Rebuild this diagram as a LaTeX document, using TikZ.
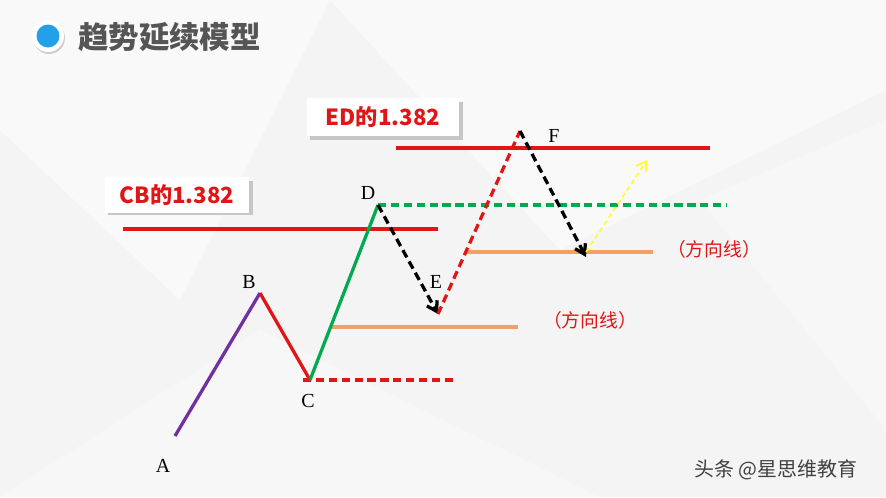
\documentclass[tikz,border=0pt]{standalone}
\usepackage{fontspec}
\setmainfont{Liberation Serif}
\newfontfamily\cjk{Noto Sans CJK SC}
\usetikzlibrary{arrows.meta}
\definecolor{wpurple}{RGB}{112,48,160}
\definecolor{wred}{RGB}{224,22,22}
\definecolor{wgreen}{RGB}{0,170,80}
\definecolor{worange}{RGB}{244,160,100}
\definecolor{wyellow}{RGB}{255,255,40}
\definecolor{tblue}{RGB}{35,160,232}
\definecolor{tgray}{RGB}{85,85,85}
\definecolor{bggray}{RGB}{244,244,244}
\begin{document}
\begin{tikzpicture}[x=0.03cm, y=-0.03cm,
  wave/.style={line width=2.8pt},
  dash line/.style={line width=2.8pt, dash pattern=on 7pt off 4pt},
  tip/.style={-{Straight Barb[length=8pt,width=10pt]}},
  pt label/.style={font=\fontsize{17}{17}\selectfont, inner sep=1pt},
  dir label/.style={font=\cjk\fontsize{16}{16}\selectfont, text=wred},
  ratio box/.style={fill=white, font=\cjk\bfseries\fontsize{19}{19}\selectfont, text=wred,
    minimum height=31pt, inner xsep=7pt}]
\useasboundingbox (0,0) rectangle (886,497);
% background
\fill[bggray] (0,0) rectangle (886,497);
\fill[white, opacity=.5] (0,0) -- (330,0) -- (180,300) -- (0,130) -- cycle;
\fill[white, opacity=.5] (330,0) -- (886,0) -- (886,90) -- (560,250) -- cycle;
\fill[white, opacity=.3] (0,497) -- (260,330) -- (600,497) -- cycle;
\fill[white, opacity=.3] (700,200) -- (886,120) -- (886,430) -- cycle;
% title
\fill[gray!40] (49,38) circle (16);
\fill[white] (48,36) circle (16);
\fill[tblue] (48,36) circle (11.5);
\node[font=\cjk\bfseries\fontsize{26}{26}\selectfont, text=tgray, anchor=west] (title) at (74,37) {趋势延续模型};
% points
\coordinate (A) at (175,436);
\coordinate (B) at (260,293);
\coordinate (C) at (310,380);
\coordinate (D) at (378,205);
\coordinate (E) at (438,314);
\coordinate (F) at (520,131);
\coordinate (G) at (586,257);
\coordinate (H) at (647,160);
% reference lines
\draw[wave, wred] (123,229) -- (438,229);
\draw[wave, wred] (396,148) -- (710,148);
\draw[wave, worange] (331,327) -- (518,327);
\draw[wave, worange] (467,252) -- (653,252);
\draw[dash line, wred] (303,380) -- (453,380);
\draw[dash line, wgreen] (D) -- (727,205);
% waves
\draw[wave, wpurple] (A) -- (B);
\draw[wave, wred] (B) -- (C);
\draw[wave, wgreen] (C) -- (D);
\draw[dash line, black, tip] (D) -- (E);
\draw[dash line, wred] (E) -- (F);
\draw[dash line, black, tip] (F) -- (G);
\draw[line width=1.4pt, dash pattern=on 4pt off 3pt, wyellow, tip] (586,252) -- (H);
% point labels
\node[pt label] (lA) at (163,466) {A};
\node[pt label] (lB) at (249,282) {B};
\node[pt label] (lC) at (308,401) {C};
\node[pt label] (lD) at (368,193) {D};
\node[pt label] (lE) at (436,282) {E};
\node[pt label] (lF) at (554,136) {F};
% ratio boxes
\fill[gray!45] (108,181) rectangle (253,215);
\node[ratio box, minimum width=145*0.85pt] (cb) at (177,195) {CB的1.382};
\fill[gray!45] (310,102) rectangle (463,140);
\node[ratio box, minimum width=153*0.85pt, minimum height=38*0.85pt] (ed) at (383,117) {ED的1.382};
% direction lines
\node[dir label] (dir1) at (590,320) {（方向线）};
\node[dir label] (dir2) at (714,249) {（方向线）};
% watermark
\node[font=\cjk\fontsize{17}{17}\selectfont, text=black!75] (mark) at (776,470) {头条 @星思维教育};
\end{tikzpicture}
\end{document}
